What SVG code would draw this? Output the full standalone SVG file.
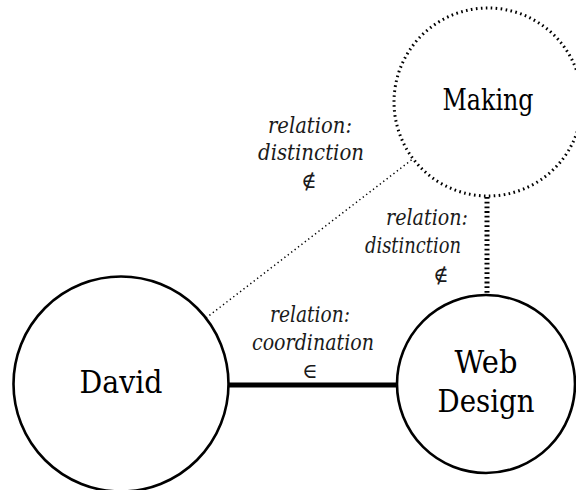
<svg xmlns="http://www.w3.org/2000/svg" width="576" height="490" viewBox="0 0 576 490">
  <defs>
    <style>
      .node { fill: #ffffff; stroke: #000000; stroke-width: 2.6; }
      .dotted-node { fill: #ffffff; stroke: #000000; stroke-width: 3; stroke-dasharray: 1.6 3.4; }
      .name { font-family: "DejaVu Serif", serif; fill: #000000; text-anchor: middle; }
      .rel { font-family: "DejaVu Serif", serif; font-style: italic; font-size: 22px; fill: #1a1a1a; text-anchor: middle; }
      .sym { font-family: "DejaVu Serif", serif; font-size: 21px; fill: #1a1a1a; text-anchor: middle; }
      .solid { stroke: #000000; stroke-width: 5; fill: none; }
      .thin-dots { stroke: #000000; stroke-width: 1.5; stroke-dasharray: 1.3 3; fill: none; }
      .tick-dots { stroke: #000000; stroke-width: 5; stroke-dasharray: 1.8 2.9; fill: none; }
    </style>
  </defs>

  <rect x="0" y="0" width="576" height="490" fill="#ffffff"/>

  <!-- connectors -->
  <g id="connectors">
    <line class="thin-dots" x1="206" y1="318" x2="414" y2="158"/>
    <line class="solid" x1="228" y1="385" x2="398" y2="385"/>
    <line class="tick-dots" x1="487" y1="197" x2="487" y2="294"/>
  </g>

  <!-- relation labels -->
  <g id="labels">
    <text class="rel" x="310" y="133" textLength="84" lengthAdjust="spacingAndGlyphs">relation:</text>
    <text class="rel" x="311" y="160" textLength="106" lengthAdjust="spacingAndGlyphs">distinction</text>
    <text class="sym" x="309" y="188">∉</text>

    <text class="rel" x="427" y="225" textLength="82" lengthAdjust="spacingAndGlyphs">relation:</text>
    <text class="rel" x="413" y="253" textLength="96" lengthAdjust="spacingAndGlyphs">distinction</text>
    <text class="sym" x="441" y="282">∉</text>

    <text class="rel" x="310" y="322" textLength="80" lengthAdjust="spacingAndGlyphs">relation:</text>
    <text class="rel" x="313" y="350" textLength="122" lengthAdjust="spacingAndGlyphs">coordination</text>
    <text class="sym" x="310" y="378">∈</text>
  </g>

  <!-- nodes -->
  <g id="node-making">
    <circle class="dotted-node" cx="488" cy="102" r="94"/>
    <text class="name" x="488" y="110" font-size="29" textLength="91" lengthAdjust="spacingAndGlyphs">Making</text>
  </g>

  <g id="node-david">
    <circle class="node" cx="121" cy="384" r="107.5"/>
    <text class="name" x="121" y="393" font-size="31" textLength="83" lengthAdjust="spacingAndGlyphs">David</text>
  </g>

  <g id="node-web-design">
    <circle class="node" cx="486" cy="384" r="89"/>
    <text class="name" x="486" y="373" font-size="32" textLength="63" lengthAdjust="spacingAndGlyphs">Web</text>
    <text class="name" x="486" y="412" font-size="32" textLength="97" lengthAdjust="spacingAndGlyphs">Design</text>
  </g>
</svg>
